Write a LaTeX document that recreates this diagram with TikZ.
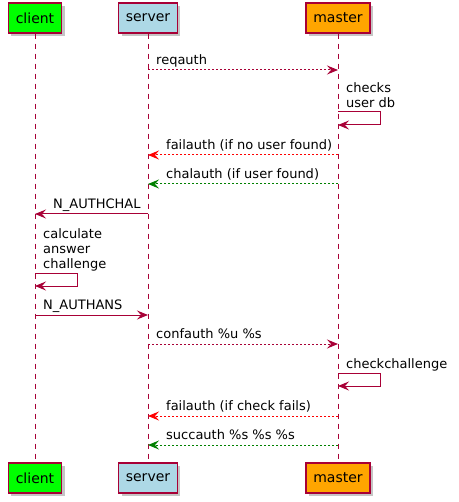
\documentclass[tikz,border=0pt]{standalone}
\usepackage{fontspec}
\setmainfont{DejaVu Sans}
\usetikzlibrary{arrows.meta,shadows}
\definecolor{umlline}{HTML}{A80036}
\definecolor{clientfill}{HTML}{00FF00}
\definecolor{serverfill}{HTML}{ADD8E6}
\definecolor{masterfill}{HTML}{FFA500}
\definecolor{okgreen}{HTML}{008000}
\tikzset{
  actor/.style={draw=umlline, line width=1.2pt, minimum height=30pt, inner xsep=7.3pt,
    font=\fontsize{14}{16}\selectfont,
    drop shadow={shadow xshift=3pt, shadow yshift=-3pt, fill=black!45, opacity=0.5}},
  lifeline/.style={umlline, line width=0.9pt, dash pattern=on 5pt off 5pt},
  msg/.style={umlline, line width=1pt, -{Stealth[length=11pt,width=9pt,inset=4pt]}},
  ask/.style={msg, dash pattern=on 2pt off 2pt},
  nack/.style={ask, red},
  ack/.style={ask, okgreen},
  lbl/.style={inner sep=0pt, anchor=base west, font=\fontsize{13}{15}\selectfont, align=left},
}
\begin{document}
\begin{tikzpicture}[x=1pt,y=-1pt]
  \useasboundingbox (0,0) rectangle (458,502);
  % participants and lifelines
  \foreach \who/\x/\col in {client/35/clientfill,server/148/serverfill,master/338/masterfill} {
    \node[actor, fill=\col] (\who) at (\x,18) {\who};
    \node[actor, fill=\col] (\who-end) at (\x,478) {\who};
    \draw[lifeline] (\who) -- (\who-end);
  }
  % messages
  \foreach \y/\a/\b/\sty/\l/\gap/\txt [count=\n] in {
      70/server/master/ask/server/8/reqauth,
      155/master/server/nack/server/18/failauth (if no user found),
      184/master/server/ack/server/18/chalauth (if user found),
      214/server/client/msg/client/18/N\_AUTHCHAL,
      315/client/server/msg/client/8/N\_AUTHANS,
      344/server/master/ask/server/8/confauth \%u \%s,
      416/master/server/nack/server/18/failauth (if check fails),
      445/master/server/ack/server/18/succauth \%s \%s \%s} {
    \draw[\sty] (\a |- 0,\y) -- (\b |- 0,\y);
    \node[lbl, xshift=\gap pt] (msg\n) at (\l |- 0,\y-5.5) {\txt};
  }
  % self messages
  \foreach \who/\top/\txt [count=\n] in {master/112/{checks\\user db},
      client/273/{calculate\\answer\\challenge},master/373/checkchallenge} {
    \draw[msg] (\who |- 0,\top) -- ++(42,0) |- (\who |- 0,\top+13);
    \node[lbl, xshift=8pt] (self\n) at (\who |- 0,\top-4.5) {\txt};
  }
\end{tikzpicture}
\end{document}
